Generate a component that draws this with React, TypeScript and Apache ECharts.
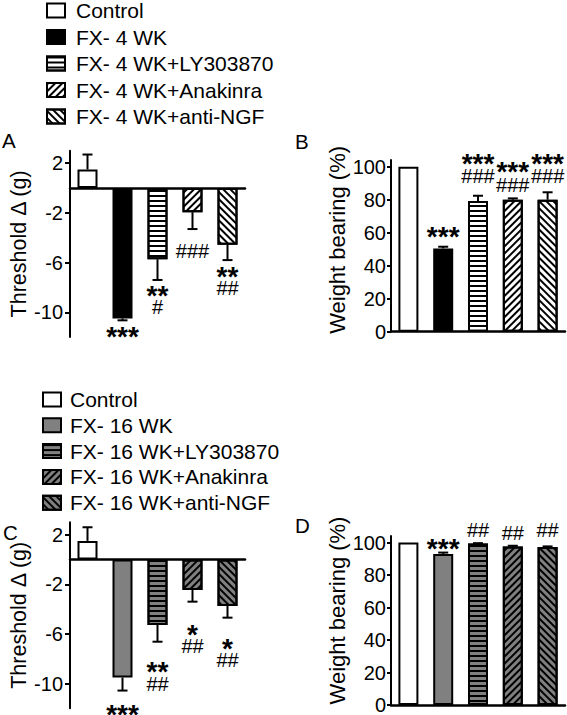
import React, { useEffect, useRef } from 'react';
import * as echarts from 'echarts';

const FONT = '"Liberation Sans", Arial, Helvetica, sans-serif';

const categories = ['Control', 'FX', 'LY303870', 'Anakinra', 'anti-NGF'];
const namesTop = ['Control', 'FX- 4 WK', 'FX- 4 WK+LY303870', 'FX- 4 WK+Anakinra', 'FX- 4 WK+anti-NGF'];
const namesBottom = ['Control', 'FX- 16 WK', 'FX- 16 WK+LY303870', 'FX- 16 WK+Anakinra', 'FX- 16 WK+anti-NGF'];

// Panel A: threshold change, 4 WK
const thresholdA = [1.5, -10.5, -5.73, -1.94, -4.57];
const thresholdAErr = [2.7, -10.65, -7.4, -3.3, -5.8];
const thresholdASig = [[], ['***'], ['**', '#'], ['###'], ['**', '##']];
const thresholdASigAt = [0, -11.43, -8.07, -5.08, -6.55];

// Panel B: weight bearing, 4 WK
const weightB = [100, 50.5, 79.2, 80, 80];
const weightBErr = [100, 51.5, 82.4, 80.8, 84.5];
const weightBSig = [[], ['***'], ['***', '###'], ['***', '###'], ['***', '###']];
const weightBSigAt = [0, 61.6, 106, 101, 105.9];

// Panel C: threshold change, 16 WK
const thresholdC = [1.5, -9.52, -5.28, -2.46, -3.75];
const thresholdCErr = [2.6, -10.57, -6.63, -3.4, -4.69];
const thresholdCSig = [[], ['***'], ['**', '##'], ['*', '##'], ['*', '##']];
const thresholdCSigAt = [0, -11.95, -8.51, -5.47, -6.63];

// Panel D: weight bearing, 16 WK
const weightD = [100, 93, 99.4, 97.5, 97.3];
const weightDErr = [100, 93.8, 99.6, 98, 97.6];
const weightDSig = [[], ['***'], ['##'], ['##'], ['##']];
const weightDSigAt = [0, 100.5, 107.8, 105.8, 107.8];

const thresholdTicks = [2, -2, -6, -10];
const weightTicks = [0, 20, 40, 60, 80, 100];

const hDecal = { symbol: 'rect', symbolSize: 1, dashArrayX: [1, 0], dashArrayY: [1.5, 2.5], rotation: 0, color: '#000' };
const fwdDecal = { symbol: 'rect', symbolSize: 1, dashArrayX: [1, 0], dashArrayY: [2, 3], rotation: -Math.PI / 4, color: '#000' };
const backDecal = { symbol: 'rect', symbolSize: 1, dashArrayX: [1, 0], dashArrayY: [2, 3], rotation: Math.PI / 4, color: '#000' };

const border = { borderColor: '#000', borderWidth: 2 };
const stylesTop = [
  { color: '#fff', ...border },
  { color: '#000', ...border },
  { color: '#fff', ...border, decal: hDecal },
  { color: '#fff', ...border, decal: fwdDecal },
  { color: '#fff', ...border, decal: backDecal },
];
const GRAY = '#808080';
const stylesBottom = [
  { color: '#fff', ...border },
  { color: GRAY, ...border },
  { color: GRAY, ...border, decal: hDecal },
  { color: GRAY, ...border, decal: fwdDecal },
  { color: GRAY, ...border, decal: backDecal },
];

function barSeries(names: string[], values: number[], styles: any[], xi: number) {
  return names.map((n, g) => ({
    type: 'bar',
    name: n,
    xAxisIndex: xi,
    yAxisIndex: xi,
    data: values.map((v, i) => (i === g ? v : null)),
    barWidth: 20,
    barGap: '-100%',
    itemStyle: styles[g],
    silent: true,
    emphasis: { disabled: true },
  }));
}

function errSeries(xi: number, values: number[], errs: number[], sig: string[][], sigAt: number[], gap: number) {
  return {
    type: 'custom',
    xAxisIndex: xi,
    yAxisIndex: xi,
    silent: true,
    z: 5,
    clip: false,
    data: values.map((v, i) => [i, v, errs[i], sigAt[i]]),
    renderItem: (params: any, api: any) => {
      const i = params.dataIndex;
      const cat = api.value(0);
      const v = api.value(1);
      const e = api.value(2);
      const at = api.value(3);
      const children: any[] = [];
      if (e !== v) {
        const p0 = api.coord([cat, v]);
        const p1 = api.coord([cat, e]);
        children.push({ type: 'line', shape: { x1: p0[0], y1: p0[1], x2: p1[0], y2: p1[1] }, style: { stroke: '#000', lineWidth: 2 } });
        children.push({ type: 'line', shape: { x1: p1[0] - 5, y1: p1[1], x2: p1[0] + 5, y2: p1[1] }, style: { stroke: '#000', lineWidth: 2 } });
      }
      const lines = sig[i];
      if (lines.length) {
        const pa = api.coord([cat, at]);
        lines.forEach((t, j) => {
          const star = t.charAt(0) === '*';
          const fs = star ? 28 : 20;
          children.push({
            type: 'text',
            style: {
              text: t,
              x: pa[0],
              y: pa[1] + j * gap + (star ? 0.24 * fs : 0),
              fill: '#000',
              fontSize: fs,
              fontWeight: star ? 'bold' : 'normal',
              fontFamily: FONT,
              align: 'center',
              verticalAlign: 'middle',
            },
          });
        });
      }
      return { type: 'group', children };
    },
  };
}

function xAxis(gi: number) {
  return {
    type: 'category',
    gridIndex: gi,
    data: categories,
    axisLabel: { show: false },
    axisTick: { show: false },
    axisLine: { show: true, onZero: true, lineStyle: { color: '#000', width: 2.5 } },
    splitLine: { show: false },
  };
}

function thresholdAxis(gi: number) {
  return {
    type: 'value',
    gridIndex: gi,
    min: -12,
    max: 3,
    name: 'Threshold Δ (g)',
    nameLocation: 'middle',
    nameRotate: 90,
    nameGap: 31,
    nameTextStyle: { fontSize: 21.5, color: '#000', fontFamily: FONT },
    axisLine: { show: true, onZero: false, lineStyle: { color: '#000', width: 2 } },
    axisTick: { show: true, length: 5, customValues: thresholdTicks, lineStyle: { color: '#000', width: 2 } },
    axisLabel: { show: true, margin: 7, customValues: thresholdTicks, fontSize: 20, color: '#000', fontFamily: FONT },
    splitLine: { show: false },
  };
}

function weightAxis(gi: number, shift: number) {
  return {
    type: 'value',
    gridIndex: gi,
    min: 0,
    max: 104,
    name: 'Weight bearing (%)',
    nameLocation: 'middle',
    nameRotate: 90,
    nameGap: 41,
    nameTextStyle: { fontSize: 22, color: '#000', fontFamily: FONT, padding: [0, 0, 0, shift] },
    axisLine: { show: true, onZero: false, lineStyle: { color: '#000', width: 2 } },
    axisTick: { show: true, length: 4, customValues: weightTicks, lineStyle: { color: '#000', width: 2 } },
    axisLabel: { show: true, margin: 5, customValues: weightTicks, fontSize: 20, color: '#000', fontFamily: FONT },
    splitLine: { show: false },
  };
}

function legend(names: string[], top: number, left: number, gap: number, pad: number) {
  return {
    orient: 'vertical',
    left,
    top,
    padding: 0,
    itemGap: gap,
    itemWidth: 18,
    itemHeight: 14,
    icon: 'rect',
    selectedMode: false,
    data: names,
    textStyle: { fontSize: 21, color: '#000', fontFamily: FONT, padding: [0, 0, 0, pad] },
  };
}

function letter(t: string, x: number, y: number) {
  return { type: 'text', x, y, style: { text: t, fontSize: 20.5, fontFamily: FONT, fill: '#000', verticalAlign: 'middle', align: 'left' } };
}

export default function App() {
  const ref = useRef<HTMLDivElement>(null);
  useEffect(() => {
    document.body.style.margin = '0';
    const chart = echarts.init(ref.current!, null, { renderer: 'svg' });
    chart.setOption({
      animation: false,
      backgroundColor: '#fff',
      textStyle: { fontFamily: FONT },
      legend: [legend(namesTop, 0, 46, 5.5, 6), legend(namesBottom, 389, 42, 4.8, 4)],
      grid: [
        { left: 70, top: 150.8, width: 175, height: 186.3 },
        { left: 391, top: 160.1, width: 174, height: 171.6 },
        { left: 70, top: 522.3, width: 175, height: 186 },
        { left: 391, top: 536, width: 174, height: 172.3 },
      ],
      xAxis: [xAxis(0), xAxis(1), xAxis(2), xAxis(3)],
      yAxis: [thresholdAxis(0), weightAxis(1, 12), thresholdAxis(2), weightAxis(3, 20)],
      graphic: [letter('A', 2, 140), letter('B', 295, 141), letter('C', 3, 532.5), letter('D', 295, 525.5)],
      series: [
        ...barSeries(namesTop, thresholdA, stylesTop, 0),
        errSeries(0, thresholdA, thresholdAErr, thresholdASig, thresholdASigAt, 19),
        ...barSeries(namesTop, weightB, stylesTop, 1),
        errSeries(1, weightB, weightBErr, weightBSig, weightBSigAt, 19.5),
        ...barSeries(namesBottom, thresholdC, stylesBottom, 2),
        errSeries(2, thresholdC, thresholdCErr, thresholdCSig, thresholdCSigAt, 18.5),
        ...barSeries(namesBottom, weightD, stylesBottom, 3),
        errSeries(3, weightD, weightDErr, weightDSig, weightDSigAt, 19),
      ],
    });
    return () => chart.dispose();
  }, []);
  return <div ref={ref} style={{ width: 567, height: 715 }} />;
}
